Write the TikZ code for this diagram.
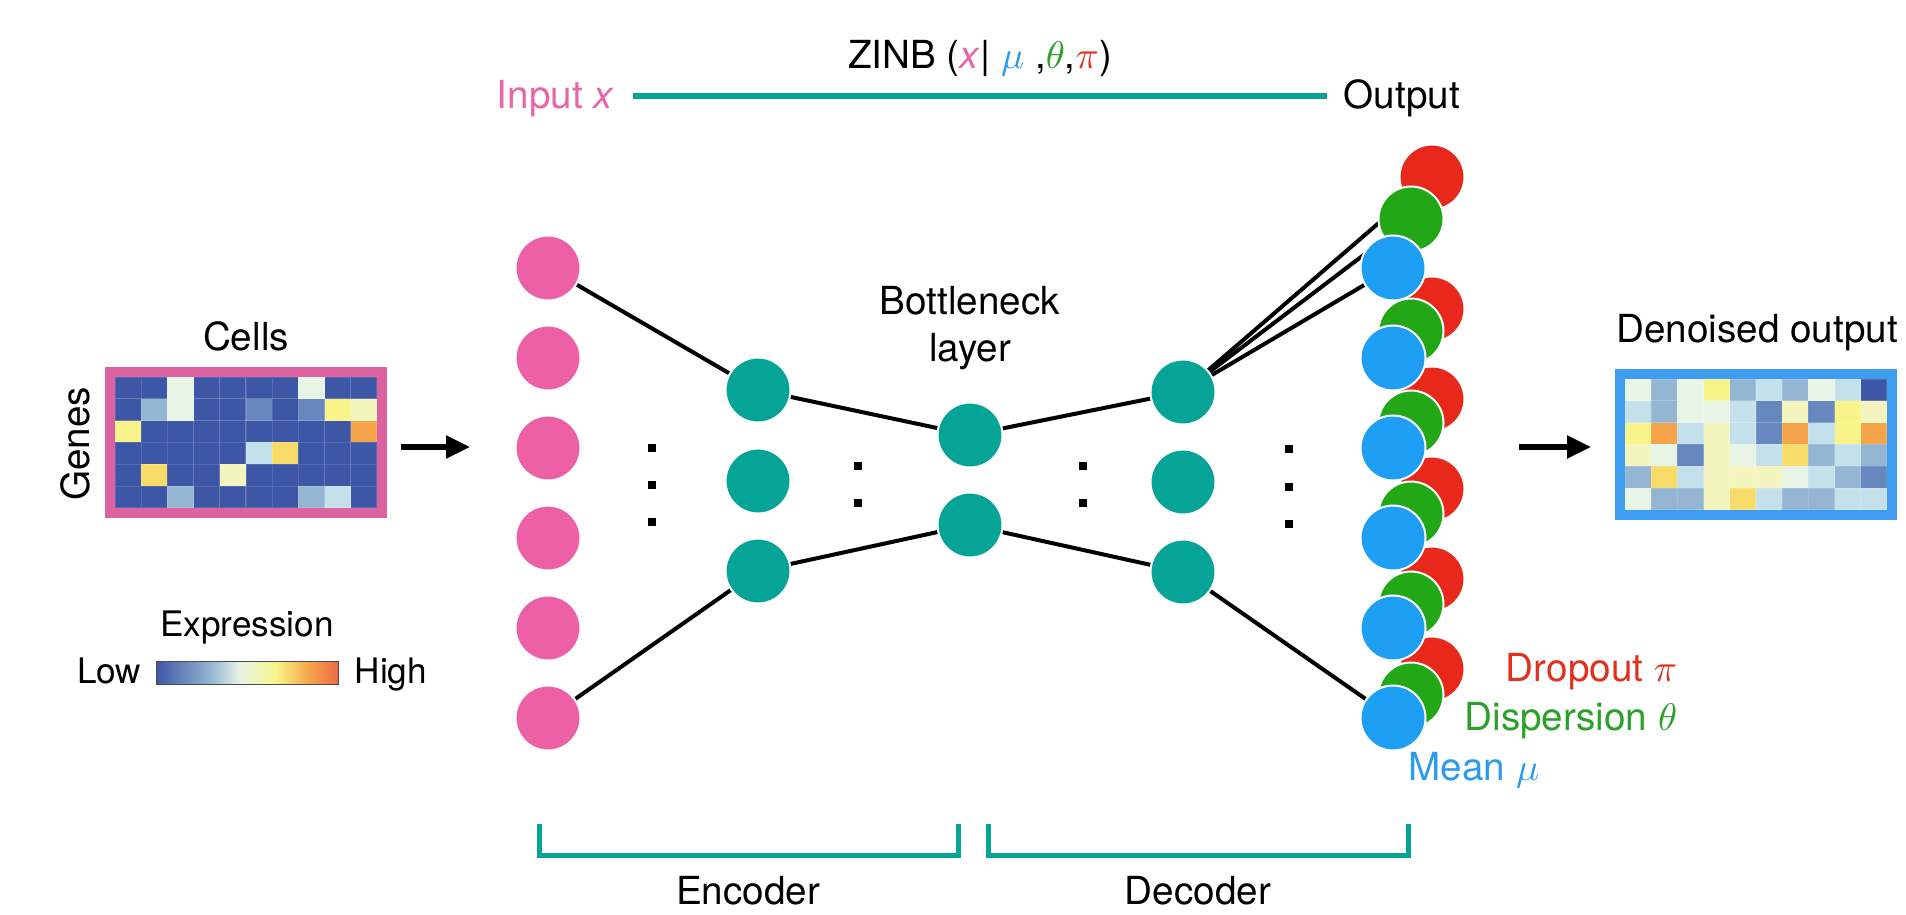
\documentclass[tikz,border=0pt]{standalone}
\usepackage{fontspec}
\setmainfont{TeX Gyre Heros}
\usetikzlibrary{arrows.meta}

\definecolor{inpink}{HTML}{EE60A6}
\definecolor{nnteal}{HTML}{06A397}
\definecolor{pired}{HTML}{E8281A}
\definecolor{thgreen}{HTML}{22A816}
\definecolor{mublue}{HTML}{1E9FF4}
\definecolor{txpink}{HTML}{E866A8}
\definecolor{txred}{HTML}{E0301E}
\definecolor{txgreen}{HTML}{2BA12A}
\definecolor{txblue}{HTML}{2C9BEE}
\definecolor{framepink}{HTML}{DC62A0}
\definecolor{frameblue}{HTML}{3F9DEF}
% heatmap colours
\definecolor{hmD}{HTML}{3E56A6}
\definecolor{hmW}{HTML}{E8F4E6}
\definecolor{hmL}{HTML}{94B6D2}
\definecolor{hmM}{HTML}{6688BE}
\definecolor{hmC}{HTML}{C4E0EA}
\definecolor{hmY}{HTML}{F8F48A}
\definecolor{hmP}{HTML}{F4F4BE}
\definecolor{hmG}{HTML}{F8DC6A}
\definecolor{hmO}{HTML}{F6A44A}
\definecolor{hmR}{HTML}{EC6E45}

% only 25bp..75bp of the shading is shown
\pgfdeclarehorizontalshading{exprbar}{100bp}{color(0bp)=(hmD); color(25bp)=(hmD); color(40bp)=(hmL); color(48bp)=(hmW); color(58bp)=(hmY); color(67bp)=(hmO); color(75bp)=(hmR); color(100bp)=(hmR)}

\pgfdeclarelayer{bg}
\pgfsetlayers{bg,main}

\begin{document}
\begin{tikzpicture}[x=0.1mm, y=-0.1mm,
  unit/.style={circle, minimum size=6.5mm, inner sep=0pt, draw=white, line width=0.2mm},
  lbl/.style={font=\fontsize{11}{13.2}\selectfont, inner sep=0pt},
  small/.style={font=\fontsize{10}{12}\selectfont, inner sep=0pt},
  wire/.style={black, line width=0.4mm},
  bracket/.style={nnteal, line width=0.5mm},
  bigarrow/.style={black, line width=0.55mm, -{Triangle[length=2.4mm,width=2.2mm]}}]
\useasboundingbox (0,0) rectangle (1906,914);

% top line
\node[lbl, anchor=base] (zinb) at (980,68) {ZINB (\textcolor{txpink}{\textit{x}}| \textcolor{txblue}{$\mu$} ,\textcolor{txgreen}{$\theta$},\textcolor{txred}{$\pi$})};
\node[lbl, anchor=base east, text=txpink] (inp) at (615,108) {Input \textit{x}};
\node[lbl, anchor=base west] (outp) at (1343,108) {Output};
\coordinate (lineL) at (633,96);
\coordinate (lineR) at (1327,96);
\draw[nnteal, line width=0.6mm] (lineL) -- (lineR);

% raw counts
\node[lbl, anchor=base] (cells) at (246,350) {Cells};
\node[lbl, rotate=90] (genes) at (75,444) {Genes};
\foreach \row [count=\r from 0] in {{D,D,W,D,D,D,D,W,D,D},{D,L,W,D,D,M,D,M,Y,P},{Y,D,D,D,D,D,D,D,D,O},{D,D,D,D,D,C,G,D,D,D},{D,G,D,D,P,D,D,D,D,D},{D,D,L,D,D,D,D,L,C,D}}
  \foreach \c [count=\k from 0] in \row
    \filldraw[fill=hm\c, draw=white, draw opacity=0.12, line width=0.12mm] ({115+26.2*\k},{377+21.83*\r}) rectangle ++(26.2,21.83);
\node[draw=framepink, line width=1mm, minimum width=27.2mm, minimum height=14.1mm, inner sep=0pt] (counts) at (246,442.5) {};

\coordinate (arrL) at (401,447);
\coordinate (arrLend) at (470,447);
\draw[bigarrow] (arrL) -- (arrLend);

% colour key
\node[small, anchor=base] (expr) at (247,636) {Expression};
\shade[shading=exprbar, draw=black!70, line width=0.1mm] (156,661) rectangle (338,684);
\node[small, anchor=base east] (low) at (142,683) {Low};
\node[small, anchor=base west] (high) at (354,683) {High};

% input layer
\foreach \k in {1,...,6}
  \node[unit, fill=inpink] (in\k) at (548,{268+90*(\k-1)}) {};

% encoder, bottleneck, decoder
\foreach \k/\y in {1/390, 2/481, 3/571}
  \node[unit, fill=nnteal] (enc\k) at (758,\y) {};
\node[unit, fill=nnteal] (bn1) at (970,435) {};
\node[unit, fill=nnteal] (bn2) at (970,525) {};
\foreach \k/\y in {1/392, 2/482, 3/572}
  \node[unit, fill=nnteal] (dec\k) at (1183,\y) {};
\node[lbl, align=center] (bnlbl) at (970,328) {Bottleneck\\layer};

% output layer: dropout, dispersion, mean
\foreach \k/\y in {1/177, 2/309, 3/399, 4/489, 5/579, 6/669}
  \node[unit, fill=pired] (pi\k) at (1432,\y) {};
\foreach \k/\y in {1/219, 2/331, 3/423, 4/514, 5/604, 6/695}
  \node[unit, fill=thgreen] (th\k) at (1411,\y) {};
\foreach \k in {1,...,6}
  \node[unit, fill=mublue] (mu\k) at (1393,{268+90*(\k-1)}) {};

\foreach \x/\y in {652/448, 652/485, 652/522, 858/466, 858/503, 1083/466, 1083/503, 1289/449, 1289/487, 1289/524}
  \fill ({\x-4},{\y-4}) rectangle ++(8,8);

\begin{pgfonlayer}{bg}
\draw[wire] (in1.center) -- (enc1.center);
\draw[wire] (in6.center) -- (enc3.center);
\draw[wire] (enc1.center) -- (bn1.center);
\draw[wire] (enc3.center) -- (bn2.center);
\draw[wire] (bn1.center) -- (dec1.center);
\draw[wire] (bn2.center) -- (dec3.center);
\draw[wire] (dec1.center) -- (pi1.center);
\draw[wire] (dec1.center) -- (th1.center);
\draw[wire] (dec1.center) -- (mu1.center);
\draw[wire] (dec3.center) -- (mu6.center);
\end{pgfonlayer}

\node[lbl, anchor=base east, text=txred] (drop) at (1678,681) {Dropout $\pi$};
\node[lbl, anchor=base east, text=txgreen] (disp) at (1678,730) {Dispersion $\theta$};
\node[lbl, anchor=base west, text=txblue] (mean) at (1408,780) {Mean $\mu$};

% denoised output
\coordinate (arrR) at (1519,447);
\coordinate (arrRend) at (1591,447);
\draw[bigarrow] (arrR) -- (arrRend);
\node[lbl, anchor=base] (denoised) at (1757,342) {Denoised output};
\foreach \row [count=\r from 0] in {{W,L,W,Y,L,C,L,W,C,D},{C,L,W,W,C,M,P,M,Y,P},{Y,O,C,P,C,M,O,C,Y,O},{P,W,M,P,W,C,G,L,C,L},{L,G,C,P,P,P,W,C,L,M},{W,L,L,P,G,C,L,L,C,C}}
  \foreach \c [count=\k from 0] in \row
    \filldraw[fill=hm\c, draw=white, draw opacity=0.12, line width=0.12mm] ({1625+26.2*\k},{379+21.83*\r}) rectangle ++(26.2,21.83);
\node[draw=frameblue, line width=1mm, minimum width=27.2mm, minimum height=14.1mm, inner sep=0pt] (denmap) at (1756,444.5) {};

% encoder / decoder brackets
\draw[bracket] (539,824) -- (539,855) -- (958,855) -- (958,824);
\draw[bracket] (988,824) -- (988,855) -- (1408,855) -- (1408,824);
\node[lbl, anchor=base] (enclbl) at (748,904) {Encoder};
\node[lbl, anchor=base] (declbl) at (1198,904) {Decoder};

\end{tikzpicture}
\end{document}
